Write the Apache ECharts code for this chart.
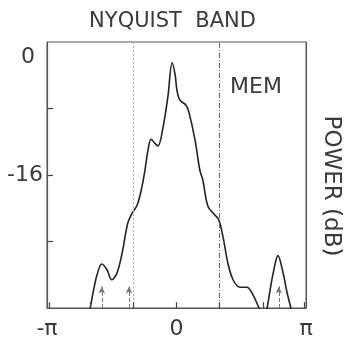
<!DOCTYPE html>
<html>
<head>
<meta charset="utf-8">
<script src="https://cdn.jsdelivr.net/npm/echarts@6/dist/echarts.min.js"></script>
<style>
  html, body { margin: 0; padding: 0; background: #fff; }
  #chart { width: 345px; height: 338px; }
</style>
</head>
<body>
<div id="chart"></div>
<script>
// frequency in units of pi/3 (so -3 = -pi, 3 = pi), power in dB
var freq = [-2.05, -2.00, -1.93, -1.84, -1.73, -1.61, -1.50, -1.38, -1.26, -1.13, -1.03, -0.91, -0.80, -0.73,
  -0.66, -0.59, -0.50, -0.43, -0.31, -0.20, -0.10, -0.03, 0.01, 0.08, 0.22, 0.29, 0.43, 0.54, 0.61, 0.73,
  0.89, 0.98, 1.08, 1.19, 1.31, 1.47, 1.63, 1.75, 1.91, 1.98, 2.05, 2.10, 2.17, 2.24, 2.35, 2.47, 2.56, 2.65, 2.70];
var power = [-33.0, -32.0, -30.1, -28.0, -26.7, -27.4, -28.6, -27.8, -25.4, -21.8, -20.6, -19.6, -17.4, -15.4,
  -13.0, -11.7, -12.2, -12.5, -10.2, -6.6, -2.5, -4.0, -5.8, -7.0, -7.6, -8.5, -11.8, -15.4, -16.6, -19.8,
  -20.8, -21.4, -23.5, -26.6, -28.6, -29.5, -29.5, -30.2, -32.0, -33.2, -33.2, -32.0, -29.8, -27.8, -25.7, -27.8, -30.1, -32.0, -33.0];

// true frequencies marked by arrows
var arrowFreq = [-1.73, -1.10, 2.37];
var arrowTop = -29.4;

// dotted band lines at -pi/3 and pi/3
var bandLines = [-1, 1];

// inner tick marks
var xTicks = [-2.95, -2, -1, 0, 1, 2, 2.95];
var yTicks = [-8, -16, -24];

var xTickLabels = { '-3': '-π', '0': '0', '3': 'π' };
var yTickLabels = { '0': '{z|0}', '-16': '-16' };

var font = 'DejaVu Sans';
var ink = '#3a3a3a';

var myChart = echarts.init(document.getElementById('chart'));

var markData = [];
markData.push([{ coord: [bandLines[0], -32], symbol: 'none' },
               { coord: [bandLines[0], 0], symbol: 'none', lineStyle: { color: '#b0b0b8', type: [2, 2], width: 1 } }]);
markData.push([{ coord: [bandLines[1], -32], symbol: 'none' },
               { coord: [bandLines[1], 0], symbol: 'none', lineStyle: { color: '#666', type: [5, 2, 1, 2], width: 1 } }]);
arrowFreq.forEach(function (f) {
  markData.push([{ coord: [f, -32], symbol: 'none' },
                 { coord: [f, arrowTop], symbol: 'arrow', symbolSize: [5, 7], lineStyle: { color: '#777', width: 1 } }]);
});
var tickStyle = { color: '#444', width: 1.2, type: 'solid' };
xTicks.forEach(function (t) {
  markData.push([{ coord: [t, -32], symbol: 'none' },
                 { coord: [t, -31.3], symbol: 'none', lineStyle: tickStyle }]);
});
yTicks.forEach(function (t) {
  markData.push([{ coord: [-3, t], symbol: 'none' },
                 { coord: [-2.86, t], symbol: 'none', lineStyle: tickStyle }]);
});

var option = {
  animation: false,
  title: {
    text: 'NYQUIST  BAND',
    left: 'center',
    top: 6,
    textStyle: { fontFamily: font, fontWeight: 'normal', fontSize: 21, color: ink }
  },
  grid: {
    left: 47, right: 39, top: 42, bottom: 30,
    outerBoundsMode: 'none', containLabel: false,
    show: true, borderColor: '#555', borderWidth: 1
  },
  xAxis: {
    type: 'value',
    min: -3, max: 3, interval: 1,
    axisLine: { show: true, onZero: false, lineStyle: { color: '#555', width: 1.2 } },
    axisTick: { show: false },
    splitLine: { show: false },
    axisLabel: {
      margin: 10, fontFamily: font, fontSize: 22, color: ink,
      formatter: function (v) { return xTickLabels[String(Math.round(v))] || ''; }
    }
  },
  yAxis: [{
    type: 'value',
    min: -32, max: 0, interval: 8,
    axisLine: { show: true, onZero: false, lineStyle: { color: '#555', width: 1.2 } },
    axisTick: { show: false },
    splitLine: { show: false },
    axisLabel: {
      margin: 4, fontFamily: font, fontSize: 22, color: ink,
      formatter: function (v) { return yTickLabels[String(v)] || ''; },
      rich: { z: { fontFamily: font, fontSize: 22, color: ink, padding: [30, 8, 0, 0] } }
    }
  }, {
    type: 'value',
    position: 'right',
    min: -32, max: 0,
    name: 'POWER (dB)',
    nameLocation: 'middle',
    nameRotate: -90,
    nameGap: 13,
    nameTextStyle: { fontFamily: font, fontSize: 23, color: ink, padding: [0, 0, 0, 22] },
    axisLine: { show: true, onZero: false, lineStyle: { color: '#555', width: 1 } },
    axisTick: { show: false },
    axisLabel: { show: false },
    splitLine: { show: false }
  }],
  graphic: [{
    type: 'text',
    left: 230, top: 76,
    style: { text: 'MEM', fontFamily: font, fontSize: 22, fill: ink }
  }],
  series: [{
    name: 'MEM',
    type: 'line',
    data: freq.map(function (f, i) { return [f, power[i]]; }),
    smooth: 0.35,
    showSymbol: false,
    clip: true,
    lineStyle: { color: '#222', width: 1.6 },
    markLine: {
      silent: true,
      symbol: 'none',
      label: { show: false },
      data: markData
    }
  }]
};
myChart.setOption(option);
window.addEventListener('resize', function () { myChart.resize(); });
</script>
</body>
</html>
